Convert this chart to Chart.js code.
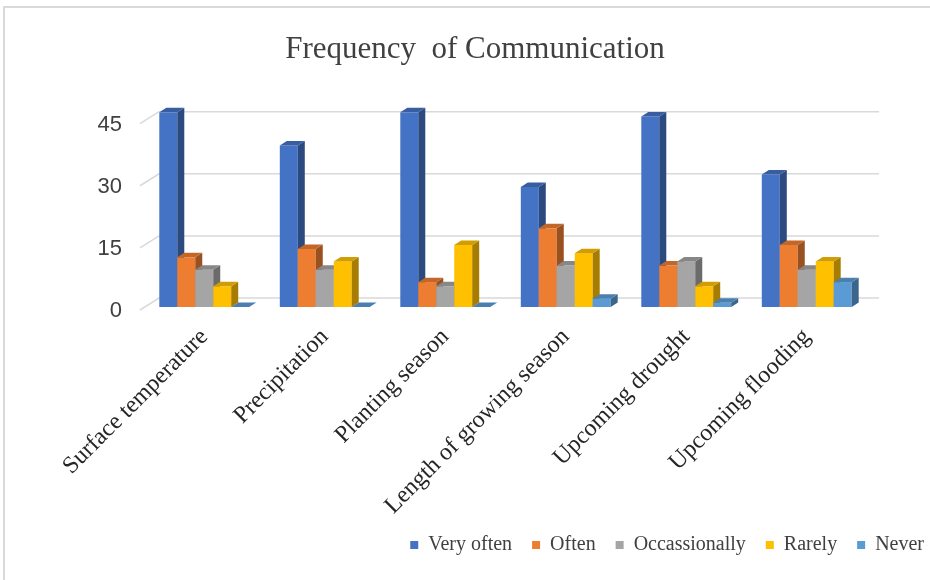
<!DOCTYPE html>
<html>
<head>
<meta charset="utf-8">
<script src="https://cdn.jsdelivr.net/npm/chart.js@4.4.1/dist/chart.umd.min.js"></script>
<style>
  body { margin: 0; background: #fff; }
  #wrap { position: relative; width: 930px; height: 580px; overflow: hidden; }
  #frame { position: absolute; left: 3px; top: 6px; width: 960px; height: 600px;
    border-left: 2px solid #d9d9d9; border-top: 2px solid #d9d9d9; pointer-events: none; }
</style>
</head>
<body>
<div id="wrap">
  <canvas id="commChart" width="930" height="580"></canvas>
  <div id="frame"></div>
</div>
<script>
const categories = ["Surface temperature", "Precipitation", "Planting season",
  "Length of growing season", "Upcoming drought", "Upcoming flooding"];
const veryOften = [47, 39, 47, 29, 46, 32];
const often = [12, 14, 6, 19, 10, 15];
const occassionally = [9, 9, 5, 10, 11, 9];
const rarely = [5, 11, 15, 13, 5, 11];
const never = [0, 0, 0, 2, 1, 6];
const yTicks = [0, 15, 30, 45];

const DX = 7, DY = 4.5;

function shade(hex, f) {
  const n = parseInt(hex.slice(1), 16);
  const r = Math.round(((n >> 16) & 255) * f);
  const g = Math.round(((n >> 8) & 255) * f);
  const b = Math.round((n & 255) * f);
  return `rgb(${r},${g},${b})`;
}

// fake 3D: back wall gridlines + boxes with a side and a top face
const bars3d = {
  id: "bars3d",
  beforeDatasetsDraw(chart) {
    const { ctx, chartArea: a, scales: { y } } = chart;
    ctx.save();
    ctx.strokeStyle = "#d9d9d9";
    ctx.lineWidth = 1.5;
    yTicks.forEach((v) => {
      const py = y.getPixelForValue(v);
      ctx.beginPath();
      ctx.moveTo(a.left - 4, py + 3);
      ctx.lineTo(a.left + 15, py - 9);
      ctx.lineTo(a.right + 12, py - 9);
      ctx.stroke();
    });

    categories.forEach((c, i) => {
      chart.data.datasets.forEach((ds, d) => {
        const el = chart.getDatasetMeta(d).data[i];
        const { x, y: top, base, width } = el.getProps(["x", "y", "base", "width"], true);
        const l = x - width / 2, r = x + width / 2;
        const col = ds.backgroundColor;
        ctx.fillStyle = col;
        ctx.fillRect(l, top, width, base - top);
        ctx.fillStyle = shade(col, 0.65);
        ctx.beginPath();
        ctx.moveTo(r, top);
        ctx.lineTo(r + DX, top - DY);
        ctx.lineTo(r + DX, base - DY);
        ctx.lineTo(r, base);
        ctx.closePath();
        ctx.fill();
        ctx.fillStyle = shade(col, 0.82);
        ctx.beginPath();
        ctx.moveTo(l, top);
        ctx.lineTo(l + DX, top - DY);
        ctx.lineTo(r + DX, top - DY);
        ctx.lineTo(r, top);
        ctx.closePath();
        ctx.fill();
      });
    });
    ctx.restore();
    return false;
  },
};

const ctx = document.getElementById("commChart").getContext("2d");
const commChart = new Chart(ctx, {
  type: "bar",
  data: {
    labels: categories,
    datasets: [
      { label: "Very often", data: veryOften, backgroundColor: "#4472C4" },
      { label: "Often", data: often, backgroundColor: "#ED7D31" },
      { label: "Occassionally", data: occassionally, backgroundColor: "#A5A5A5" },
      { label: "Rarely", data: rarely, backgroundColor: "#FFC000" },
      { label: "Never", data: never, backgroundColor: "#5B9BD5" },
    ],
  },
  options: {
    responsive: false,
    animation: false,
    categoryPercentage: 0.746,
    barPercentage: 1,
    layout: { padding: { top: 0, left: 6, right: -14, bottom: 15 } },
    plugins: {
      title: {
        display: true,
        text: "Frequency  of Communication",
        color: "#404040",
        font: { family: "Liberation Serif", size: 31, weight: "normal" },
        padding: { top: 31, bottom: 40 },
      },
      legend: {
        position: "bottom",
        align: "end",
        labels: {
          boxWidth: 8,
          boxHeight: 8,
          padding: 20,
          color: "#404040",
          font: { family: "Liberation Serif", size: 20 },
        },
      },
      tooltip: { enabled: false },
    },
    scales: {
      x: {
        grid: { display: false },
        border: { display: false },
        afterFit: (s) => { s.height = 208; },
        ticks: {
          minRotation: 45,
          maxRotation: 45,
          padding: 8,
          color: "#262626",
          font: { family: "Liberation Serif", size: 24 },
        },
      },
      y: {
        min: 0,
        max: 48,
        grid: { display: false },
        border: { display: false },
        afterBuildTicks: (s) => { s.ticks = yTicks.map((v) => ({ value: v })); },
        afterFit: (s) => { s.width = 138; },
        ticks: {
          padding: 14,
          labelOffset: 4,
          color: "#404040",
          font: { family: "Liberation Sans", size: 22 },
        },
      },
      y2: {
        position: "right",
        grid: { display: false },
        border: { display: false },
        ticks: { display: false },
        afterFit: (s) => { s.width = 77; },
      },
    },
  },
  plugins: [bars3d],
});
</script>
</body>
</html>
